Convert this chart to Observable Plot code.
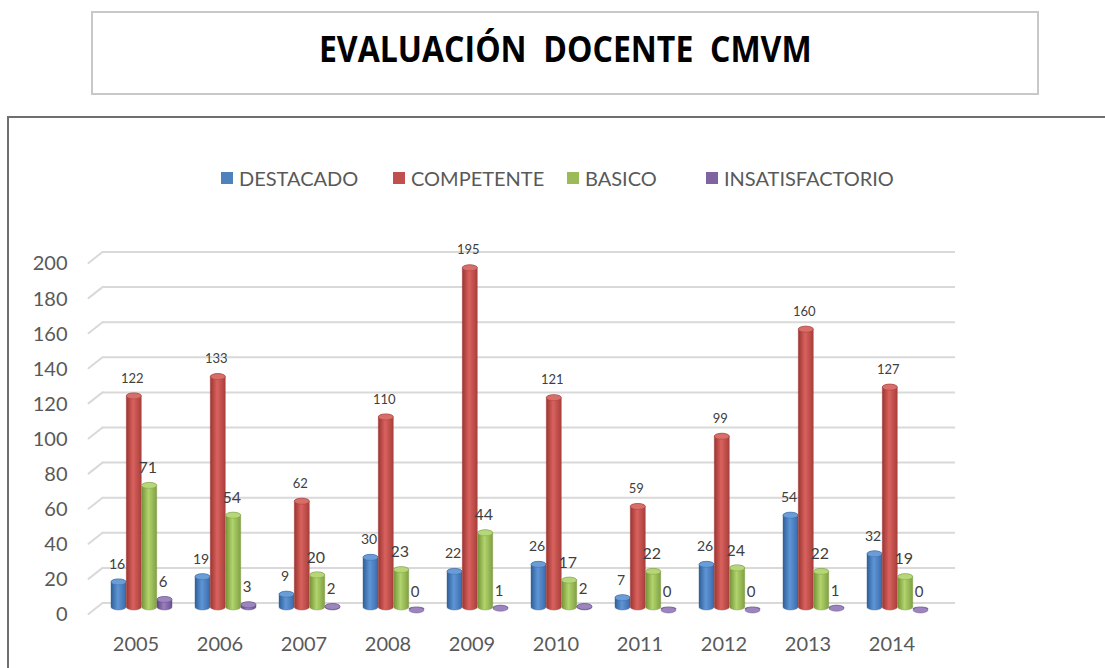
<!DOCTYPE html>
<html>
<head>
<meta charset="utf-8">
<script src="https://cdn.jsdelivr.net/npm/d3@7"></script>
<script src="https://cdn.jsdelivr.net/npm/@observablehq/plot@0.6"></script>
<style>
  html, body { margin: 0; padding: 0; background: #fff; width: 1105px; height: 668px; overflow: hidden; font-family: Lato, "Open Sans", sans-serif; }
  #titlebox { position: absolute; left: 91px; top: 11px; width: 944px; height: 80px; border: 2px solid #c8c8c8; display: flex; align-items: center; justify-content: center; box-sizing: content-box; }
  #titlebox span { font-weight: bold; font-size: 35px; line-height: 40px; color: #000; white-space: pre; font-family: "Open Sans", Lato, sans-serif; transform: scaleX(0.915); display: inline-block; margin-top: -8px; }
  #chartbox { position: absolute; left: 7px; top: 116px; width: 1120px; height: 600px; border: 2px solid #6f6f6f; }
  .leg { position: absolute; top: 166px; height: 24px; display: flex; align-items: center; font-size: 20px; color: #595959; white-space: nowrap; }
  .leg i { display: inline-block; width: 12px; height: 12px; margin-right: 6px; }
  #chart { position: absolute; left: 0; top: 200px; }
</style>
</head>
<body>
<div id="titlebox"><span>EVALUACIÓN  DOCENTE  CMVM</span></div>
<div id="chartbox"></div>
<div id="legend"></div>
<div id="chart"></div>
<script>
const years = ["2005","2006","2007","2008","2009","2010","2011","2012","2013","2014"];
const destacado = [16,19,9,30,22,26,7,26,54,32];
const competente = [122,133,62,110,195,121,59,99,160,127];
const basico = [71,54,20,23,44,17,22,24,22,19];
const insatisfactorio = [6,3,2,0,1,2,0,0,1,0];
const seriesNames = ["DESTACADO","COMPETENTE","BASICO","INSATISFACTORIO"];
const seriesValues = [destacado, competente, basico, insatisfactorio];
const seriesColors = ["#4f81bd","#c0504d","#9bbb59","#8064a2"];
const yTicks = [0,20,40,60,80,100,120,140,160,180,200];

// gradient stops (dark edge, light, dark edge) and cap colours
const gradStops = [
  ["#2f5f99","#5f95d6","#3a6cab"],
  ["#9c3431","#d9625e","#a93f3c"],
  ["#76943a","#b1d46c","#81a043"],
  ["#5d4680","#9a7fbf","#6a5190"]
];
const capColors = ["#6a9cd8","#d86e6a","#b6d67a","#9c84bd"];
const offsets = [-23, -7.7, 7.7, 23];
const labelSizes = [14, 13, 16, 15];

// legend
const legX = [221, 393, 567, 706];
const legend = document.getElementById("legend");
seriesNames.forEach((n, i) => {
  const d = document.createElement("div");
  d.className = "leg";
  d.style.left = legX[i] + "px";
  d.innerHTML = `<i style="background:${seriesColors[i]}"></i>${n}`;
  legend.appendChild(d);
});

const rowsBySeries = seriesNames.map((s, si) =>
  years.map((y, yi) => ({year: y, series: s, value: seriesValues[si][yi]})));

const defs = () => {
  const d = d3.create("svg:defs");
  gradStops.forEach((st, i) => {
    const g = d.append("linearGradient").attr("id", "grad" + i)
      .attr("x1", "0").attr("x2", "1").attr("y1", "0").attr("y2", "0");
    g.append("stop").attr("offset", "0").attr("stop-color", st[0]);
    g.append("stop").attr("offset", "0.45").attr("stop-color", st[1]);
    g.append("stop").attr("offset", "1").attr("stop-color", st[2]);
  });
  return d.node();
};

const lineShape = { draw(ctx, l) { ctx.moveTo(0, 0); ctx.lineTo(0, -l); } };

const marks = [
  defs,
  Plot.ruleY(yTicks, {dy: -7.5, stroke: "#d9d9d9", strokeWidth: 2}),
  Plot.vector(yTicks, {y: d => d, frameAnchor: "left", anchor: "end", length: 17.8, rotate: 51.8, dy: -7.5, shape: lineShape, stroke: "#d9d9d9", strokeWidth: 2}),
  Plot.axisY(yTicks, {tickSize: 0, tickPadding: 35, fontSize: 20, fill: "#595959", dy: 4.5, fontFamily: "Lato, 'Open Sans', sans-serif"}),
  Plot.axisX({tickSize: 0, tickPadding: 26, fontSize: 20, fill: "#595959", dx: -6, fontFamily: "Lato, 'Open Sans', sans-serif"})
];
rowsBySeries.forEach((rows, i) => {
  marks.push(Plot.barY(rows, {x: "year", y: "value", dx: offsets[i], insetTop: -3, rx: 7.6, ry: 3, fill: `url(#grad${i})`, stroke: gradStops[i][0], strokeWidth: 0.4}));
  marks.push(Plot.barY(rows, {x: "year", y1: "value", y2: "value", dx: offsets[i], insetTop: -3, insetBottom: -3, rx: 7.6, ry: 3, fill: capColors[i], stroke: gradStops[i][0], strokeWidth: 0.4}));
});
rowsBySeries.forEach((rows, i) => {
  marks.push(Plot.text(rows, {x: "year", y: "value", text: d => String(d.value), dx: offsets[i] - 2, dy: -18, fontSize: labelSizes[i], fill: "#404040", fontFamily: "Lato, 'Open Sans', sans-serif"}));
});

const chart = Plot.plot({
  width: 1105,
  height: 468,
  marginLeft: 102,
  marginRight: 150,
  marginTop: 59,
  marginBottom: 58,
  x: {type: "band", domain: years, range: [95.6, 944.4], paddingInner: 0.82, paddingOuter: 0.41, label: null},
  y: {domain: [0, 200], range: [410, 59], label: null},
  style: {background: "transparent", overflow: "visible"},
  marks
});
document.getElementById("chart").appendChild(chart);
</script>
</body>
</html>
